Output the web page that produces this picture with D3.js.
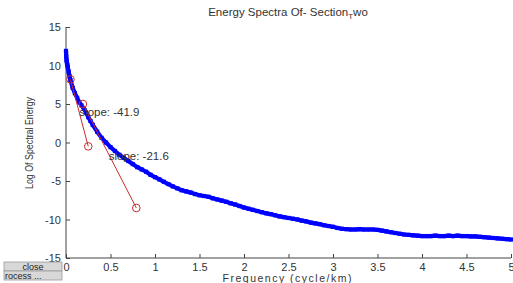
<!DOCTYPE html>
<html><head><meta charset="utf-8">
<script src="https://cdn.jsdelivr.net/npm/d3@7"></script>
<style>body{margin:0;background:#fff;}svg{display:block;font-family:"Liberation Sans",Arial,sans-serif;}</style>
</head><body><svg id="c" width="513" height="283"></svg>
<script>
const freq = [0,0.003,0.006,0.01,0.015,0.02,0.03,0.04,0.05,0.075,0.1,0.125,0.15,0.175,0.2,0.225,0.25,0.275,0.3,0.35,0.4,0.45,0.5,0.55,0.6,0.65,0.7,0.75,0.8,0.85,0.9,0.95,
1.0,1.05,1.1,1.15,1.2,1.25,1.3,1.35,1.4,1.45,1.5,1.55,1.6,1.65,1.7,1.75,1.8,1.85,1.9,1.95,
2.0,2.05,2.1,2.15,2.2,2.25,2.3,2.35,2.4,2.45,2.5,2.55,2.6,2.65,2.7,2.75,2.8,2.85,2.9,2.95,
3.0,3.05,3.1,3.15,3.2,3.25,3.3,3.35,3.4,3.45,3.5,3.55,3.6,3.65,3.7,3.75,3.8,3.85,3.9,3.95,
4.0,4.05,4.1,4.15,4.2,4.25,4.3,4.35,4.4,4.45,4.5,4.55,4.6,4.65,4.7,4.75,4.8,4.85,4.9,4.95,5.0];
const energy = [11.9,11.2,10.7,10.4,10.1,9.8,9.2,8.6,8.1,7.1,6.4,5.8,5.2,4.8,4.4,3.9,3.3,2.8,2.3,1.4,0.6,0.0,-0.6,-1.1,-1.6,-2.0,-2.4,-2.8,-3.2,-3.5,-3.8,-4.2,
-4.5,-4.8,-5.1,-5.4,-5.7,-5.95,-6.2,-6.35,-6.5,-6.7,-6.85,-6.95,-7.05,-7.25,-7.4,-7.55,-7.7,-7.9,-8.05,-8.25,
-8.45,-8.6,-8.75,-8.9,-9.05,-9.2,-9.3,-9.45,-9.6,-9.7,-9.8,-9.9,-10.0,-10.15,-10.25,-10.4,-10.5,-10.6,-10.75,-10.85,
-10.95,-11.1,-11.2,-11.25,-11.3,-11.3,-11.25,-11.3,-11.3,-11.3,-11.35,-11.45,-11.55,-11.65,-11.75,-11.85,-11.95,-12.0,-12.05,-12.1,
-12.15,-12.15,-12.15,-12.1,-12.15,-12.15,-12.1,-12.15,-12.1,-12.15,-12.15,-12.2,-12.2,-12.25,-12.3,-12.35,-12.4,-12.45,-12.5,-12.55,-12.6];
const fit1X = [0.05, 0.25], fit1Y = [8.2, -0.5];
const fit2X = [0.19, 0.79], fit2Y = [5.0, -8.5];
const slopeLabels = ["slope: -41.9", "slope: -21.6"];
const slopeAnchorX = [0.15, 0.48], slopeAnchorY = [3.4, -2.3];
const xTicks = [0,0.5,1,1.5,2,2.5,3,3.5,4,4.5,5];
const yTicks = [-15,-10,-5,0,5,10,15];

const svg = d3.select("#c");
const x = d3.scaleLinear().domain([0,5]).range([66,511]);
const y = d3.scaleLinear().domain([-15,15]).range([258,27]);
const axisCol = "#444", txtCol = "#333";

// axes
const gx = svg.append("g").attr("transform","translate(0,258)")
  .call(d3.axisBottom(x).tickValues(xTicks).tickSize(-4).tickPadding(5).tickFormat(d=>String(d)));
const gy = svg.append("g").attr("transform","translate(66,0)")
  .call(d3.axisLeft(y).tickValues(yTicks).tickSize(-4).tickPadding(5).tickFormat(d=>String(d)));
[gx,gy].forEach(g=>{
  g.select(".domain").attr("stroke",axisCol).attr("d", g===gx ? "M66,0H511" : "M0,258V27");
  g.selectAll(".tick line").attr("stroke",axisCol);
  g.selectAll(".tick text").attr("fill",txtCol).style("font-size","11px").style("font-family","Liberation Sans, Arial, sans-serif");
});

// blue data
const pts = freq.map((f,i)=>[f,energy[i]]);
svg.append("path").datum(pts)
  .attr("d", d3.line().x(d=>x(d[0])).y(d=>y(d[1])))
  .attr("fill","none").attr("stroke","#0000ff").attr("stroke-width",4.2).attr("stroke-linejoin","round");
svg.append("g").selectAll("rect").data(pts).join("rect")
  .attr("x",d=>x(d[0])-2.1).attr("y",d=>y(d[1])-2.1).attr("width",4.2).attr("height",4.2).attr("fill","#0000ff");

// red fits
const red = "#cc2b2b";
[[fit1X,fit1Y],[fit2X,fit2Y]].forEach(([fx,fy])=>{
  const p = fx.map((v,i)=>[v,fy[i]]);
  svg.append("path").datum(p).attr("d", d3.line().x(d=>x(d[0])).y(d=>y(d[1])))
    .attr("fill","none").attr("stroke",red).attr("stroke-width",1);
  svg.append("g").selectAll("circle").data(p).join("circle")
    .attr("cx",d=>x(d[0])).attr("cy",d=>y(d[1])).attr("r",3.8)
    .attr("fill","none").attr("stroke",red).attr("stroke-width",1);
});

// slope labels
slopeLabels.forEach((t,i)=>{
  svg.append("text").attr("x",x(slopeAnchorX[i])).attr("y",y(slopeAnchorY[i]))
    .attr("fill",txtCol).style("font-size","11.5px").text(t);
});

// title
const title = svg.append("text").attr("x",288).attr("y",16).attr("text-anchor","middle")
  .attr("fill",txtCol).style("font-size","11.5px");
title.append("tspan").text("Energy Spectra Of- Section");
title.append("tspan").attr("dy",3).style("font-size","8px").text("T");
title.append("tspan").attr("dy",-3).text("wo");

// axis labels
svg.append("text").attr("x",287).attr("y",282).attr("text-anchor","middle")
  .attr("fill",txtCol).style("font-size","10.5px").attr("textLength",129).text("Frequency (cycle/km)");
svg.append("text").attr("transform","translate(33,143) rotate(-90)").attr("text-anchor","middle")
  .attr("fill",txtCol).style("font-size","11px").attr("textLength",92).attr("lengthAdjust","spacingAndGlyphs").text("Log Of Spectral Energy");

// buttons
const btns = [{t:"close",y:262,anchor:"middle"},{t:"rocess ...",y:271,anchor:"start"}];
btns.forEach(b=>{
  svg.append("rect").attr("x",4).attr("y",b.y).attr("width",58).attr("height",9)
    .attr("fill","#d8d8d8").attr("stroke","#9a9a9a").attr("stroke-width",0.8);
  svg.append("text").attr("x",b.anchor==="middle"?33:5).attr("y",b.y+8).attr("text-anchor",b.anchor)
    .attr("fill","#222").style("font-size","9px").text(b.t);
});
</script></body></html>
